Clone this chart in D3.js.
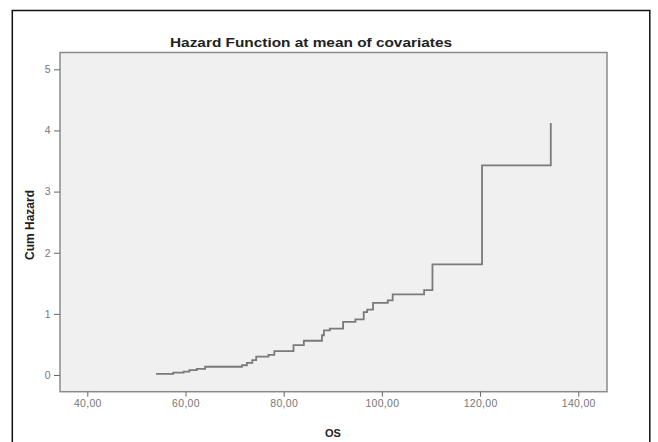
<!DOCTYPE html>
<html>
<head>
<meta charset="utf-8">
<script src="https://cdn.jsdelivr.net/npm/d3@7/dist/d3.min.js"></script>
<style>
	body { margin: 0; background: #fff; }
	text { font-family: Arial, "Liberation Sans", sans-serif; }
</style>
</head>
<body>
<svg id="svg"></svg>
<script>
var width = 658, height = 442;

// survival time (OS) where the cumulative hazard steps, and the value after the step
var times = [54.0, 57.5, 59.6, 60.8, 62.3, 64.0, 71.5, 72.5, 73.6, 74.4, 76.9, 78.1, 82.0, 84.1, 87.8, 88.2, 89.4, 92.1, 94.6, 96.3, 97.0, 98.2, 101.2, 102.2, 108.6, 110.3, 120.4, 134.4];
var cumHazard = [0.02, 0.04, 0.055, 0.08, 0.10, 0.135, 0.16, 0.20, 0.245, 0.30, 0.33, 0.39, 0.49, 0.56, 0.65, 0.73, 0.76, 0.87, 0.91, 1.03, 1.07, 1.18, 1.22, 1.32, 1.39, 1.81, 3.43, 4.12];

var xTicks = [40, 60, 80, 100, 120, 140];
var yTicks = [0, 1, 2, 3, 4, 5];

var svg = d3.select("#svg")
	.attr("width", width)
	.attr("height", height);

plot();

function plot()
{
	var left = 60, right = 607, top = 52.5, bottom = 391.7;

	var x = d3.scaleLinear()
		.domain([34.44, 145.85])
		.range([left, right]);

	var y = d3.scaleLinear()
		.domain([-0.273, 5.275])
		.range([bottom, top]);

	// outer frame (bottom edge runs off the picture)
	svg.append("rect")
		.attr("x", 12.3)
		.attr("y", 10.5)
		.attr("width", 637.5)
		.attr("height", 460)
		.style("fill", "none")
		.style("stroke", "#111")
		.style("stroke-width", 1.5);

	svg.append("rect")
		.attr("x", left)
		.attr("y", top)
		.attr("width", right - left)
		.attr("height", bottom - top)
		.style("fill", "#f0f0f0")
		.style("stroke", "#8a8a8a")
		.style("stroke-width", 1.5);

	var xAxis = d3.axisBottom()
		.scale(x)
		.tickValues(xTicks)
		.tickSize(5)
		.tickPadding(3)
		.tickFormat(function(d) { return d3.format(".2f")(d).replace(".", ","); });
	var yAxis = d3.axisLeft()
		.scale(y)
		.tickValues(yTicks)
		.tickSize(6)
		.tickPadding(3)
		.tickFormat(d3.format("d"));

	var gx = svg.append("g")
		.attr("transform", "translate(0," + bottom + ")")
		.call(xAxis);
	var gy = svg.append("g")
		.attr("transform", "translate(" + left + ", 0)")
		.call(yAxis);

	[gx, gy].forEach(function(g) {
		g.select(".domain").remove();
		g.selectAll(".tick line").style("stroke", "#666");
		g.selectAll(".tick text")
			.style("fill", "#777")
			.style("font-size", "10.5px")
			.style("letter-spacing", "0.3px")
			.style("font-family", "Arial, 'Liberation Sans', sans-serif");
	});

	var points = times.map(function(t, i) { return [t, cumHazard[i]]; });

	var line = d3.line()
		.x(function(d) { return x(d[0]); })
		.y(function(d) { return y(d[1]); })
		.curve(d3.curveStepAfter);

	svg.append("path")
		.datum(points)
		.attr("d", line)
		.style("fill", "none")
		.style("stroke", "#7a7a7a")
		.style("stroke-width", 1.8);

	svg.append("text")
		.attr("x", 311)
		.attr("y", 47)
		.attr("text-anchor", "middle")
		.attr("textLength", 282)
		.attr("lengthAdjust", "spacingAndGlyphs")
		.style("font-size", "13.5px")
		.style("font-weight", "bold")
		.style("fill", "#222")
		.text("Hazard Function at mean of covariates");

	svg.append("text")
		.attr("transform", "translate(34,225) rotate(-90)")
		.attr("text-anchor", "middle")
		.style("font-size", "12px")
		.style("font-weight", "bold")
		.style("fill", "#222")
		.text("Cum Hazard");

	svg.append("text")
		.attr("x", 333)
		.attr("y", 437)
		.attr("text-anchor", "middle")
		.style("font-size", "11px")
		.style("font-weight", "bold")
		.style("fill", "#222")
		.text("OS");

	return;
}
</script>
</body>
</html>
